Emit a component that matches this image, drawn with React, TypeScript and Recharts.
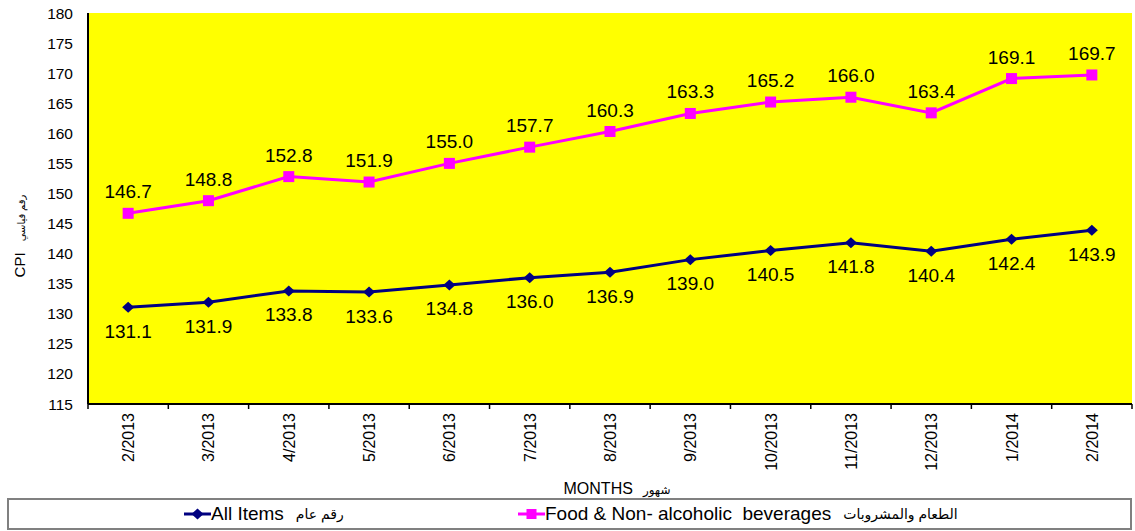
import React from 'react';
import { LineChart, Line, XAxis, YAxis, CartesianGrid, LabelList, Label } from 'recharts';

const months = ['2/2013', '3/2013', '4/2013', '5/2013', '6/2013', '7/2013', '8/2013', '9/2013', '10/2013', '11/2013', '12/2013', '1/2014', '2/2014'];
const allItems = [131.1, 131.9, 133.8, 133.6, 134.8, 136.0, 136.9, 139.0, 140.5, 141.8, 140.4, 142.4, 143.9];
const foodBev = [146.7, 148.8, 152.8, 151.9, 155.0, 157.7, 160.3, 163.3, 165.2, 166.0, 163.4, 169.1, 169.7];
const yTicks = [115, 120, 125, 130, 135, 140, 145, 150, 155, 160, 165, 170, 175, 180];
const seriesNamesEn = ['All Items', 'Food & Non- alcoholic  beverages'];
const seriesNamesAr = ['رقم عام', 'الطعام والمشروبات'];
const seriesColors = ['#000080', '#FF00FF'];
const xTitleEn = 'MONTHS';
const xTitleAr = 'شهور';
const yTitleEn = 'CPI';
const yTitleAr = 'رقم قياسي';

const data = months.map((m, i) => ({ month: m, all: allItems[i], food: foodBev[i] }));

const W = 1135;
const H = 531;
const PLOT_LEFT = 88;
const PLOT_RIGHT = 1132;
const BAND = (PLOT_RIGHT - PLOT_LEFT) / months.length;
const FONT = '"Liberation Sans", Arial, "DejaVu Sans", sans-serif';

const MonthTick = (props: any) => {
  const { x, y, payload, index } = props;
  return (
    <g>
      <line x1={x - BAND / 2} y1={y} x2={x - BAND / 2} y2={y + 5} stroke="#000" strokeWidth={1.5} />
      {index === months.length - 1 && (
        <line x1={x + BAND / 2} y1={y} x2={x + BAND / 2} y2={y + 5} stroke="#000" strokeWidth={1.5} />
      )}
      <text
        transform={`translate(${x + 6},${y + 9}) rotate(-90)`}
        textAnchor="end"
        fontSize={16}
        fill="#000"
        fontFamily={FONT}
      >
        {payload.value}
      </text>
    </g>
  );
};

const SquareDot = (props: any) => {
  const { cx, cy, index } = props;
  return <rect key={`s${index}`} x={cx - 5.5} y={cy - 5.5} width={11} height={11} fill={seriesColors[1]} />;
};

const DiamondDot = (props: any) => {
  const { cx, cy, index } = props;
  return (
    <polygon
      key={`d${index}`}
      points={`${cx},${cy - 5.5} ${cx + 6},${cy} ${cx},${cy + 5.5} ${cx - 6},${cy}`}
      fill={seriesColors[0]}
    />
  );
};

const YTitle = () => (
  <text transform="translate(25,236) rotate(-90)" textAnchor="middle" fill="#000" fontFamily={FONT} style={{ whiteSpace: 'pre' }}>
    <tspan fontSize={15}>{yTitleEn}</tspan>
    <tspan fontSize={10}>{'    ' + yTitleAr}</tspan>
  </text>
);

const XTitle = (props: any) => {
  const vb = props.viewBox || { x: 88, y: 404, width: 1044, height: 96 };
  return (
    <text
      x={vb.x + vb.width / 2 + 7}
      y={vb.y + vb.height - 6}
      textAnchor="middle"
      fill="#000"
      fontFamily={FONT}
      style={{ whiteSpace: 'pre' }}
    >
      <tspan fontSize={16}>{xTitleEn}</tspan>
      <tspan fontSize={12}>{'   ' + xTitleAr}</tspan>
    </text>
  );
};

const LegendMarker = ({ color, square }: { color: string; square: boolean }) => (
  <svg width={27} height={14} style={{ display: 'block' }}>
    <line x1={0} y1={7} x2={27} y2={7} stroke={color} strokeWidth={3} />
    {square ? (
      <rect x={8.5} y={2} width={10} height={10} fill={color} />
    ) : (
      <polygon points="13.5,1.5 19.5,7 13.5,12.5 7.5,7" fill={color} />
    )}
  </svg>
);

const legendLefts = [184, 518];

export default function App() {
  return (
    <div style={{ position: 'absolute', left: 0, top: 0, width: W, height: H, background: '#fff', fontFamily: FONT }}>
      <LineChart width={W} height={H} data={data} margin={{ top: 13, right: 3, left: 0, bottom: 31 }}>
        <CartesianGrid fill="#FFFF00" horizontal={false} vertical={false} />
        <XAxis
          dataKey="month"
          scale="band"
          interval={0}
          height={96}
          tickSize={0}
          tickMargin={0}
          tick={<MonthTick />}
          axisLine={{ stroke: '#000', strokeWidth: 2 }}
        >
          <Label content={<XTitle />} />
        </XAxis>
        <XAxis
          xAxisId="top"
          dataKey="month"
          orientation="top"
          height={0}
          tick={false}
          tickLine={false}
          axisLine={{ stroke: '#000', strokeWidth: 1.5 }}
        />
        <YAxis
          domain={[115, 180]}
          ticks={yTicks}
          interval={0}
          width={88}
          tickLine={false}
          tickSize={0}
          tickMargin={15}
          tick={{ fontSize: 15.5, fill: '#000', fontFamily: FONT }}
          axisLine={{ stroke: '#000', strokeWidth: 2 }}
          label={<YTitle />}
        />
        <YAxis
          yAxisId="right"
          orientation="right"
          domain={[115, 180]}
          width={0}
          tick={false}
          tickLine={false}
          axisLine={{ stroke: '#222', strokeWidth: 2 }}
        />
        <Line
          dataKey="food"
          stroke={seriesColors[1]}
          strokeWidth={3}
          dot={<SquareDot />}
          activeDot={false}
          isAnimationActive={false}
        >
          <LabelList
            dataKey="food"
            position="top"
            offset={15}
            formatter={(v: any) => Number(v).toFixed(1)}
            style={{ fontSize: 19, fill: '#000', fontFamily: FONT }}
          />
        </Line>
        <Line
          dataKey="all"
          stroke={seriesColors[0]}
          strokeWidth={3}
          dot={<DiamondDot />}
          activeDot={false}
          isAnimationActive={false}
        >
          <LabelList
            dataKey="all"
            position="bottom"
            offset={17}
            formatter={(v: any) => Number(v).toFixed(1)}
            style={{ fontSize: 19, fill: '#000', fontFamily: FONT }}
          />
        </Line>
      </LineChart>
      <div
        style={{
          position: 'absolute',
          left: 7,
          top: 498,
          width: 1125,
          height: 32,
          border: '2px solid #808080',
          boxSizing: 'border-box',
        }}
      >
        {seriesNamesEn.map((name, i) => (
          <div
            key={name}
            style={{
              position: 'absolute',
              left: legendLefts[i] - 9,
              top: 0,
              height: 28,
              display: 'flex',
              alignItems: 'center',
              whiteSpace: 'pre',
              color: '#000',
            }}
          >
            <LegendMarker color={seriesColors[i]} square={i === 1} />
            <span style={{ fontSize: 19 }}>{name}</span>
            <span style={{ fontSize: 14, marginLeft: 12 }}>{seriesNamesAr[i]}</span>
          </div>
        ))}
      </div>
    </div>
  );
}
